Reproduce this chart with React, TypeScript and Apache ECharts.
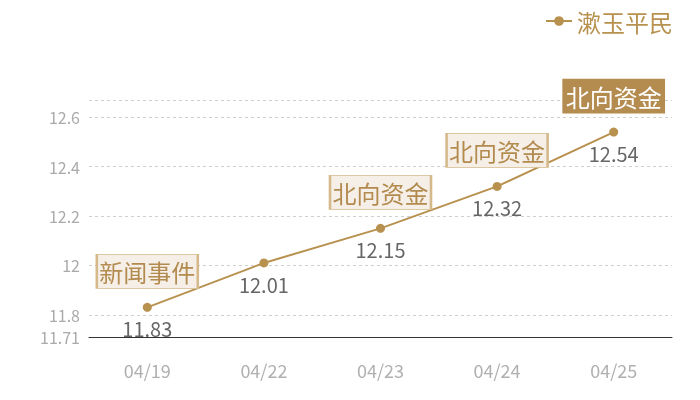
import React, { useEffect, useRef } from 'react'
import * as echarts from 'echarts'

const dates = ['04/19', '04/22', '04/23', '04/24', '04/25']
const prices = [11.83, 12.01, 12.15, 12.32, 12.54]
const eventDates = ['04/19', '04/23', '04/24', '04/25']
const eventNames = ['新闻事件', '北向资金', '北向资金', '北向资金']
const seriesName = '漱玉平民'

const gold = '#b8914f'
const font = '"Noto Sans CJK SC", "Noto Sans", sans-serif'

const App = () => {
    const chart: any = useRef()
    useEffect(() => {
        const myChart = echarts.init(chart.current, null, { renderer: 'svg' })
        const marks = eventDates.map((d, i) => {
            const last = i === eventDates.length - 1
            return {
                coord: [d, prices[dates.indexOf(d)]],
                value: eventNames[i],
                itemStyle: last
                    ? { color: '#b58c50', borderColor: '#b58c50', borderWidth: 1 }
                    : { color: '#f5efe7', borderColor: '#d5b98b', borderWidth: 1.5 },
                label: { color: last ? '#ffffff' : '#b38b4f' },
            }
        })
        myChart.setOption({
            animation: false,
            textStyle: { fontFamily: font },
            legend: {
                data: [seriesName],
                right: 22,
                top: 4,
                itemWidth: 26,
                itemHeight: 12,
                itemGap: 6,
                textStyle: { color: gold, fontSize: 24, fontFamily: font },
            },
            grid: { left: 89, right: 28, top: 100, bottom: 63 },
            xAxis: {
                type: 'category',
                data: dates,
                boundaryGap: true,
                axisLine: { lineStyle: { color: '#333', width: 1 } },
                axisTick: { show: false },
                axisLabel: { color: '#b0b0b0', fontSize: 18, margin: 24, fontFamily: font },
            },
            yAxis: {
                type: 'value',
                min: 11.71,
                max: 12.67,
                splitNumber: 5,
                axisLine: { show: false },
                axisTick: { show: false },
                axisLabel: {
                    color: '#aaa',
                    fontSize: 16,
                    margin: 9,
                    showMaxLabel: false,
                    fontFamily: font,
                },
                splitLine: { show: true, lineStyle: { type: [3, 3], color: '#cfcfcf' } },
            },
            series: [
                {
                    name: seriesName,
                    type: 'line',
                    data: prices,
                    symbol: 'circle',
                    symbolSize: 9,
                    itemStyle: { color: gold },
                    lineStyle: { color: gold, width: 2 },
                    label: {
                        show: true,
                        position: 'bottom',
                        distance: 7,
                        color: '#666',
                        fontSize: 20,
                        fontFamily: font,
                    },
                    markPoint: {
                        symbol: 'rect',
                        symbolSize: [101, 34],
                        symbolOffset: [0, -36],
                        label: {
                            show: true,
                            position: 'inside',
                            formatter: '{c}',
                            fontSize: 24,
                            fontFamily: font,
                        },
                        data: marks,
                    },
                },
            ],
        })
        return () => {
            myChart.dispose()
        }
    }, [])

    return <div ref={chart} style={{ position: 'fixed', left: 0, top: 0, width: 700, height: 400 }} />
}

export default App
